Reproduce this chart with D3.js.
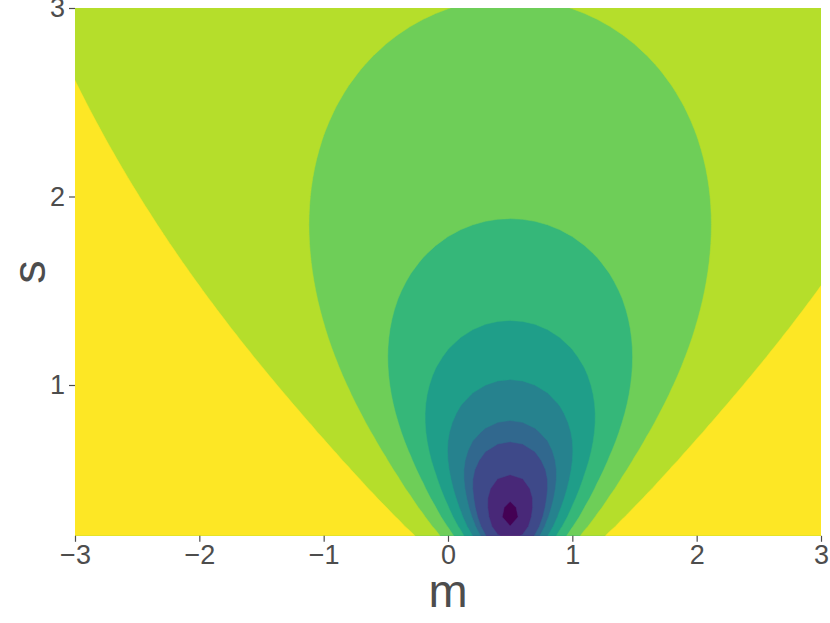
<!DOCTYPE html>
<html lang="en">
<head>
<meta charset="UTF-8">
<title>Contour m / s</title>
<script src="https://d3js.org/d3.v7.min.js"></script>
<style>
  body { margin: 0; background: #fff; }
  svg { display: block; }
  .axis text { fill: #4d4d4d; font-family: "Liberation Sans", Arial, sans-serif; font-size: 27px; }
  .axis line { stroke: #4d4d4d; stroke-width: 1.2; }
  .axis path.domain { display: none; }
  .title { fill: #4d4d4d; font-family: "Liberation Sans", Arial, sans-serif; font-size: 47px; }
</style>
</head>
<body>
<div id="chart"></div>
<script>
// axis ranges and ticks
var mRange = [-3, 3];
var sRange = [0.2, 3];
var mTicks = [-3, -2, -1, 0, 1, 2, 3];
var sTicks = [1, 2, 3];

// band edges, read off where each colour change crosses m = 0.5,
// expressed as distance values; one fill per band
var breaks = [0, 0.1, 0.248, 0.373, 0.433, 0.52, 0.606, 0.697, 0.7955, 0.913];
var fills = ["#440154", "#482878", "#3e4989", "#31688e", "#26828e",
             "#1f9e89", "#35b779", "#6ece58", "#b5de2b", "#fde725"];

var refMean = 0.5;
var refSd = 0.31;
var mStretch = 0.88;

// grid the surface is sampled on
var mStep = 0.1;
var sStep = 0.05;

var width = 830, height = 623;
var x = d3.scaleLinear().domain(mRange).range([75, 821]);
var y = d3.scaleLinear().domain(sRange).range([535.8, 8]);

function erf(v) {
    var sign = v < 0 ? -1 : 1;
    v = Math.abs(v);
    var t = 1 / (1 + 0.3275911 * v);
    var r = 1 - (((((1.061405429 * t - 1.453152027) * t) + 1.421413741) * t - 0.284496736) * t + 0.254829592) * t * Math.exp(-v * v);
    return sign * r;
}
function Phi(v) { return 0.5 * (1 + erf(v / Math.SQRT2)); }

// total variation distance between N(refMean, refSd) and N(m, s)
function tvDist(m, s) {
    var d = (m - refMean) / mStretch;
    var s0 = refSd;
    var A = 1 / (2 * s * s) - 1 / (2 * s0 * s0);
    var B = -d / (s * s);
    var C = d * d / (2 * s * s) + Math.log(s / s0);
    if (Math.abs(A) < 1e-9) {
        return 2 * Phi(Math.abs(d) / (2 * s)) - 1;
    }
    var disc = Math.max(0, B * B - 4 * A * C);
    var r = Math.sqrt(disc);
    var x1 = (-B - r) / (2 * A), x2 = (-B + r) / (2 * A);
    if (x1 > x2) { var tmp = x1; x1 = x2; x2 = tmp; }
    return Math.abs(Phi(x2 / s0) - Phi(x1 / s0) - Phi((x2 - d) / s) + Phi((x1 - d) / s));
}

var nx = Math.round((mRange[1] - mRange[0]) / mStep) + 1;
var ny = Math.round((sRange[1] - sRange[0]) / sStep) + 1;
var values = new Array(nx * ny);
for (var j = 0; j < ny; j++) {
    var s = sRange[1] - j * sStep;
    for (var i = 0; i < nx; i++) {
        var m = mRange[0] + i * mStep;
        values[j * nx + i] = tvDist(m, s);
    }
}

var contours = d3.contours().size([nx, ny]).thresholds(breaks)(values);

var proj = d3.geoTransform({
    point: function(px, py) {
        var m = mRange[0] + (px - 0.5) * mStep;
        var s = sRange[1] - (py - 0.5) * sStep;
        this.stream.point(x(m), y(s));
    }
});
var path = d3.geoPath(proj);

var svg = d3.select("#chart").append("svg")
    .attr("width", width)
    .attr("height", height);

svg.append("clipPath").attr("id", "panel")
    .append("rect")
    .attr("x", x(mRange[0])).attr("y", y(sRange[1]))
    .attr("width", x(mRange[1]) - x(mRange[0]))
    .attr("height", y(sRange[0]) - y(sRange[1]));

svg.append("g")
    .attr("clip-path", "url(#panel)")
    .selectAll("path")
    .data(contours)
    .join("path")
    .attr("d", path)
    .attr("fill", function(d, i) { return fills[i]; })
    .attr("stroke", function(d, i) { return fills[i]; })
    .attr("stroke-width", 0.5);

svg.append("g")
    .attr("class", "axis")
    .attr("transform", "translate(0," + y(sRange[0]) + ")")
    .call(d3.axisBottom(x).tickValues(mTicks).tickSize(6).tickPadding(3).tickFormat(d3.format("d")));

svg.append("g")
    .attr("class", "axis")
    .attr("transform", "translate(" + x(mRange[0]) + ",0)")
    .call(d3.axisLeft(y).tickValues(sTicks).tickSize(6).tickPadding(4).tickFormat(d3.format("d")));

svg.append("text")
    .attr("class", "title")
    .attr("x", (x(mRange[0]) + x(mRange[1])) / 2)
    .attr("y", 607)
    .attr("text-anchor", "middle")
    .text("m");

svg.append("text")
    .attr("class", "title")
    .attr("transform", "translate(45," + (y(sRange[0]) + y(sRange[1])) / 2 + ") rotate(-90)")
    .attr("text-anchor", "middle")
    .text("s");
</script>
</body>
</html>
